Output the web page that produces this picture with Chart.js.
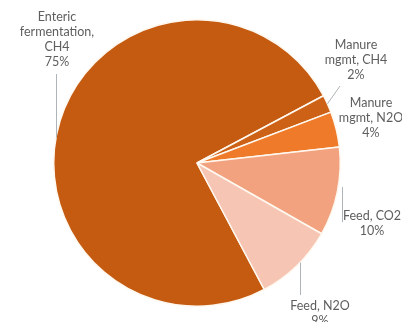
<!DOCTYPE html>
<html>
<head>
<meta charset="utf-8">
<script src="https://cdn.jsdelivr.net/npm/chart.js@4/dist/chart.umd.min.js"></script>
<style>
  html, body { margin: 0; padding: 0; background: #ffffff; }
  #wrap { width: 402px; height: 322px; }
</style>
</head>
<body>
<div id="wrap"><canvas id="c" width="402" height="322"></canvas></div>
<script>
// Livestock emissions by source, share of total (%)
const categories = ['Enteric fermentation, CH4', 'Manure mgmt, CH4', 'Manure mgmt, N2O', 'Feed, CO2', 'Feed, N2O'];
const shares = [75, 2, 4, 10, 9];
const labelLines = [
  ['Enteric', 'fermentation,', 'CH4'],
  ['Manure', 'mgmt, CH4'],
  ['Manure', 'mgmt, N2O'],
  ['Feed, CO2'],
  ['Feed, N2O']
];
const sliceColors = ['#C55A11', '#CD6116', '#EE7A2A', '#F3A27F', '#F6C5B4'];

// Where each data label sits (centre of first line) and how its leader runs
const labelLayout = [
  { x: 57,  y: 17,  leader: { type: 'vertical', x: 56, from: 74 } },
  { x: 356, y: 45,  leader: { type: 'toArc', x: 340, y: 86 } },
  { x: 371, y: 103, leader: null },
  { x: 372, y: 216, leader: { type: 'segment', x: 342, from: 187, to: 222 } },
  { x: 320, y: 306, leader: { type: 'vertical', x: 300, from: 295 } }
];
const lineHeight = 15;

const dataLabels = {
  id: 'dataLabels',
  afterDraw(chart) {
    const ctx = chart.ctx;
    const arcs = chart.getDatasetMeta(0).data;
    ctx.save();
    ctx.strokeStyle = '#AEB4B8';
    ctx.lineWidth = 1;
    arcs.forEach((arc, i) => {
      const lay = labelLayout[i];
      const cx = arc.x, cy = arc.y, r = arc.outerRadius;
      const ld = lay.leader;
      if (ld) {
        ctx.beginPath();
        if (ld.type === 'vertical') {
          const dx = ld.x - cx;
          const h = Math.sqrt(Math.max(r * r - dx * dx, 0));
          const yEdge = ld.from < cy ? cy - h : cy + h;
          ctx.moveTo(ld.x + 0.5, ld.from);
          ctx.lineTo(ld.x + 0.5, yEdge);
        } else if (ld.type === 'toArc') {
          const mid = (arc.startAngle + arc.endAngle) / 2;
          ctx.moveTo(ld.x, ld.y);
          ctx.lineTo(cx + Math.cos(mid) * r, cy + Math.sin(mid) * r);
        } else {
          ctx.moveTo(ld.x + 0.5, ld.from);
          ctx.lineTo(ld.x + 0.5, ld.to);
        }
        ctx.stroke();
      }
      ctx.fillStyle = '#5E5E5E';
      ctx.font = '12.5px Lato, "Open Sans", sans-serif';
      ctx.textAlign = 'center';
      ctx.textBaseline = 'middle';
      const lines = labelLines[i].concat([shares[i] + '%']);
      lines.forEach((t, k) => ctx.fillText(t, lay.x, lay.y + k * lineHeight));
    });
    ctx.restore();
  }
};

new Chart(document.getElementById('c'), {
  type: 'pie',
  data: {
    labels: categories,
    datasets: [{
      data: shares,
      backgroundColor: sliceColors,
      borderColor: '#FFF8EF',
      borderWidth: 1.5
    }]
  },
  options: {
    responsive: false,
    animation: false,
    rotation: 152,
    layout: { padding: { left: 53, right: 61, top: 19, bottom: 15 } },
    plugins: {
      legend: { display: false },
      tooltip: { enabled: false }
    }
  },
  plugins: [dataLabels]
});
</script>
</body>
</html>
